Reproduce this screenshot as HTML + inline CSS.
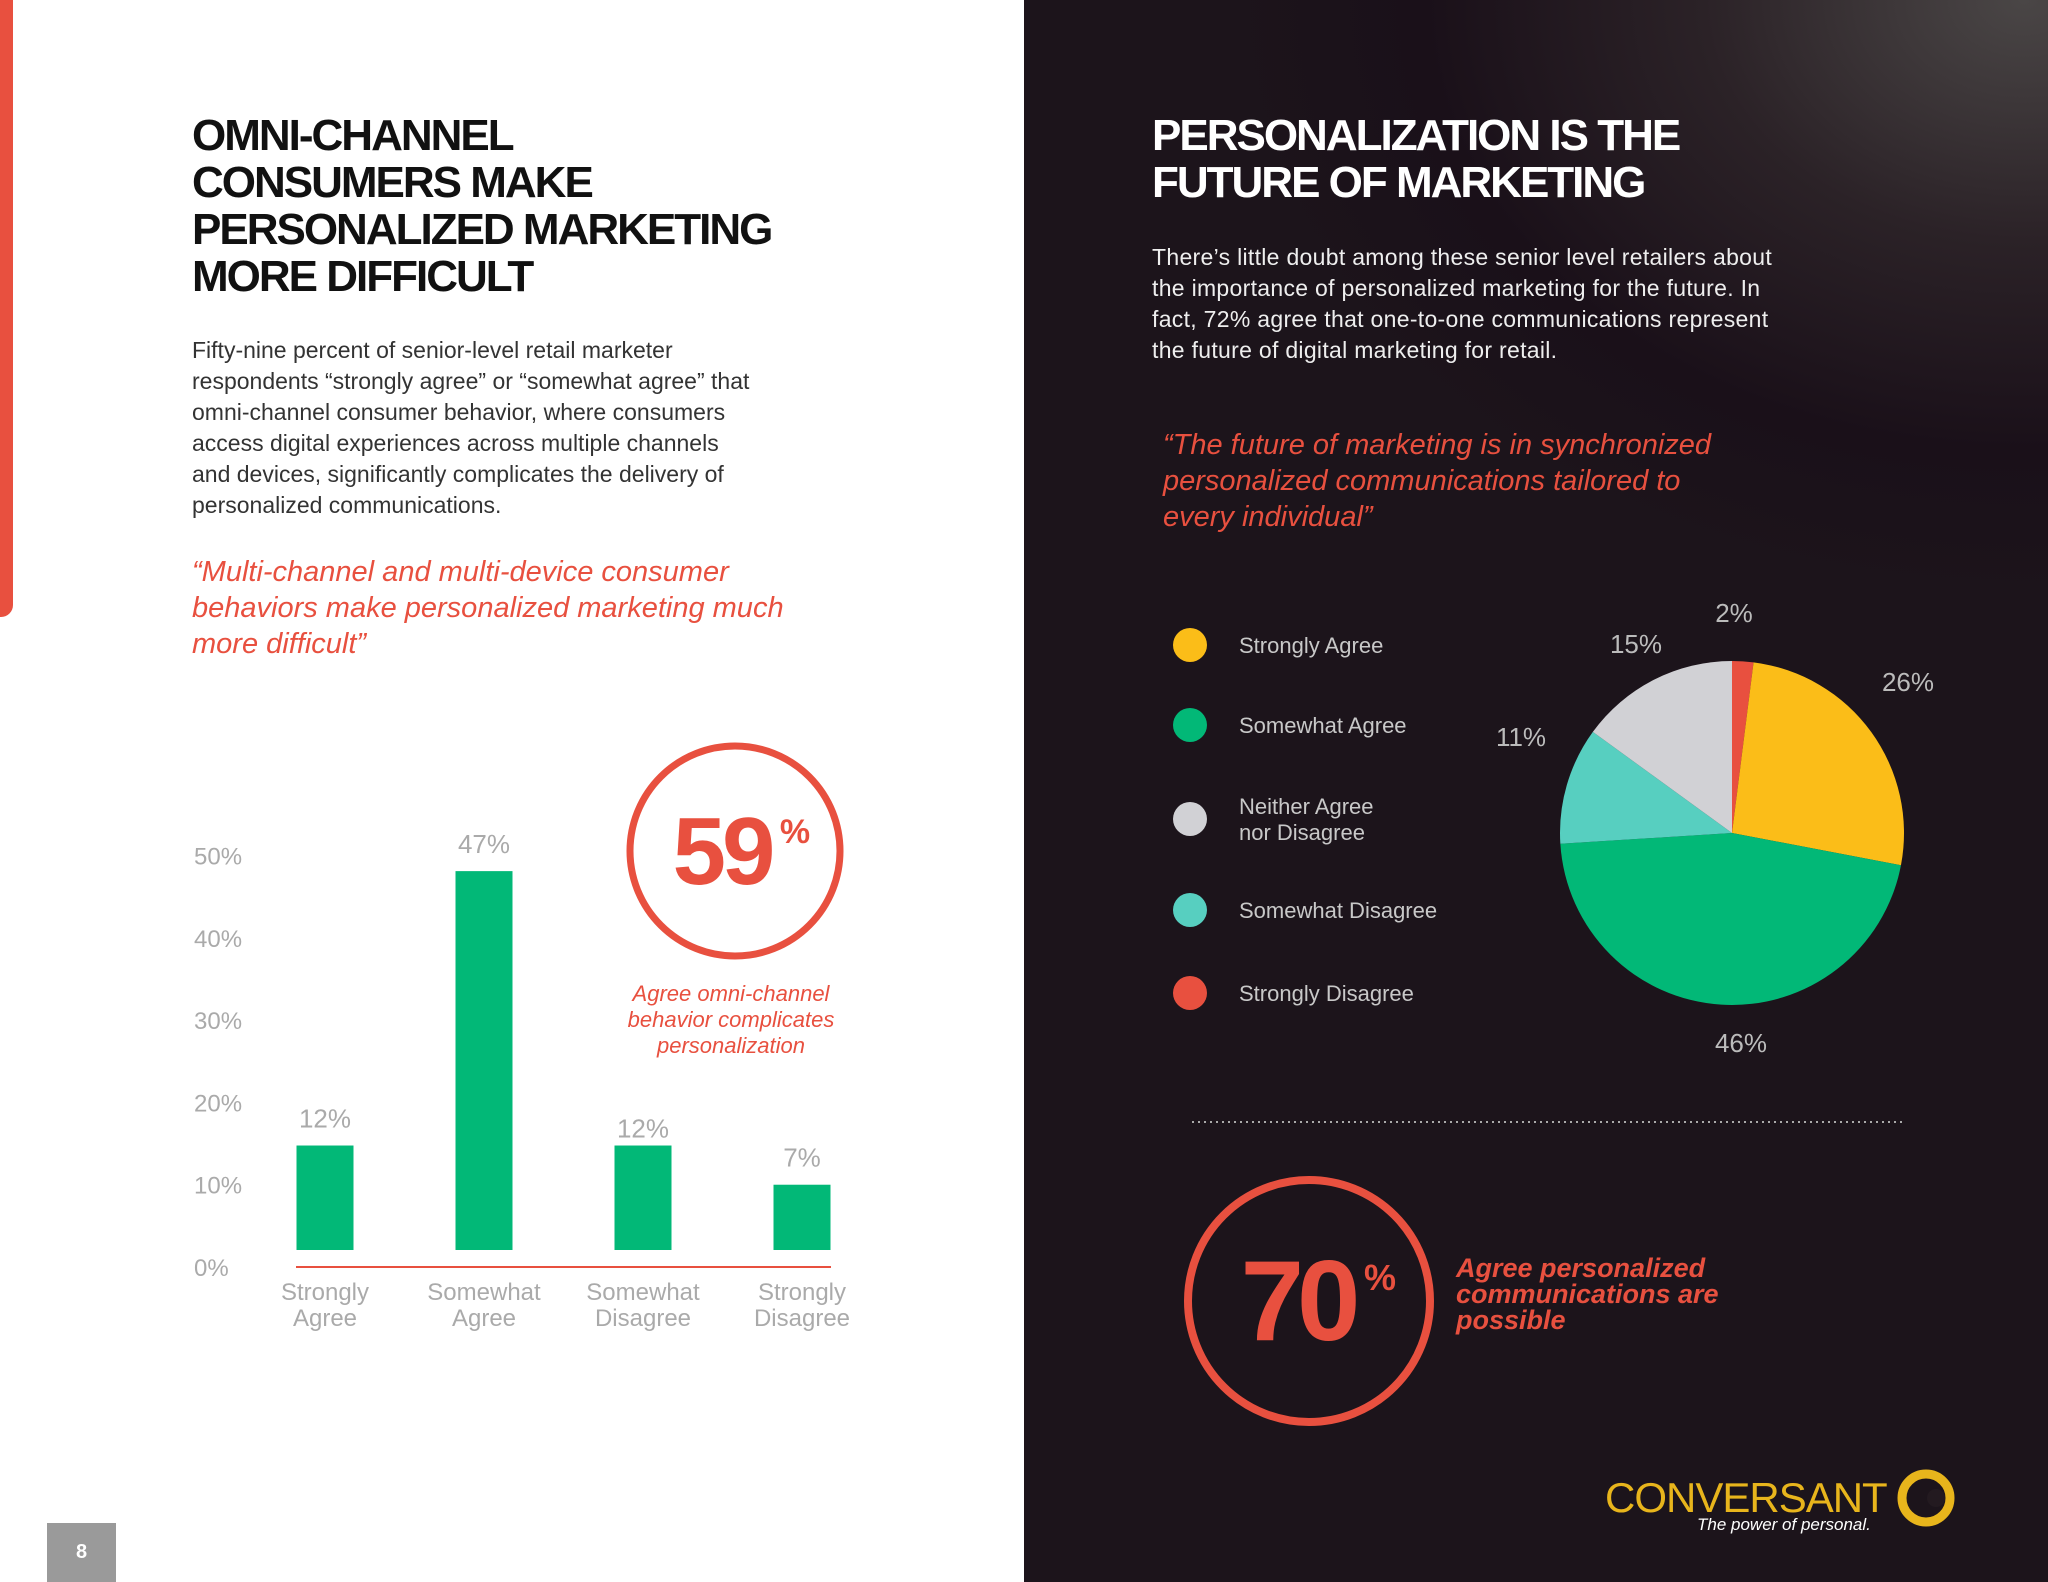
<!DOCTYPE html>
<html><head><meta charset="utf-8"><style>
html,body{margin:0;padding:0}
body{width:2048px;height:1582px;position:relative;overflow:hidden;font-family:"Liberation Sans",sans-serif;background:#fff}
.t{position:absolute;margin:0;white-space:nowrap}
#right{position:absolute;left:1024px;top:0;width:1024px;height:1582px;background:radial-gradient(ellipse 800px 600px at 1000px 0px,#4a4646 0%,#2b2227 40%,#1a1019 75%,#1c141b 100%)}
</style></head><body>
<div style="position:absolute;left:0;top:0;width:13px;height:617px;background:#e8503f;border-bottom-right-radius:12px"></div>
<div class="t" style="left:192px;top:112px;font-size:44px;font-weight:bold;line-height:47px;color:#111;letter-spacing:-2px">OMNI-CHANNEL<br>CONSUMERS MAKE<br>PERSONALIZED MARKETING<br>MORE DIFFICULT</div>
<div class="t" style="left:192px;top:335px;font-size:23px;line-height:31px;color:#333">Fifty-nine percent of senior-level retail marketer<br>respondents “strongly agree” or “somewhat agree” that<br>omni-channel consumer behavior, where consumers<br>access digital experiences across multiple channels<br>and devices, significantly complicates the delivery of<br>personalized communications.</div>
<div class="t" style="left:192px;top:554px;font-size:29px;line-height:36px;color:#e8503f;font-style:italic">“Multi-channel and multi-device consumer<br>behaviors make personalized marketing much<br>more difficult”</div>
<div style="position:absolute;left:47px;top:1523px;width:69px;height:59px;background:#9a9a9a;color:#fff;font-weight:bold;font-size:20px;text-align:center;line-height:59px">8</div>
<div id="right"></div>
<div class="t" style="left:1152px;top:112px;font-size:44px;font-weight:bold;line-height:47px;color:#fff;letter-spacing:-2px">PERSONALIZATION IS THE<br>FUTURE OF MARKETING</div>
<div class="t" style="left:1152px;top:242px;font-size:23px;line-height:31px;color:#eee;letter-spacing:0.3px">There’s little doubt among these senior level retailers about<br>the importance of personalized marketing for the future. In<br>fact, 72% agree that one-to-one communications represent<br>the future of digital marketing for retail.</div>
<div class="t" style="left:1163px;top:427px;font-size:29px;line-height:36px;color:#e8503f;font-style:italic">“The future of marketing is in synchronized<br>personalized communications tailored to<br>every individual”</div>
<svg id="svg" width="2048" height="1582" style="position:absolute;left:0;top:0" xmlns="http://www.w3.org/2000/svg" font-family="Liberation Sans, sans-serif"></svg>
<div class="t" style="left:1605px;top:1474px;font-size:42px;color:#e8b51c;letter-spacing:-1px">CONVERSANT</div>
<div class="t" style="left:1697px;top:1515px;font-size:17px;color:#fff;font-style:italic">The power of personal.</div>
<script>
const barCats=[["Strongly","Agree"],["Somewhat","Agree"],["Somewhat","Disagree"],["Strongly","Disagree"]];
const barVals=[12,47,12,7];
const barLabels=["12%","47%","12%","7%"];
const yTicks=[0,10,20,30,40,50];
const pieCats=["Strongly Agree","Somewhat Agree","Neither Agree|nor Disagree","Somewhat Disagree","Strongly Disagree"];
const pieVals=[26,46,15,11,2];
const pieLabels=["26%","46%","15%","11%","2%"];
const pieColors=["#fbbd18","#02b877","#d1d1d5","#57cfc0","#e8503f"];
const pieOrder=[4,0,1,3,2];

const NS="http://www.w3.org/2000/svg";
const svg=document.getElementById('svg');
function mk(tag,attrs,parent,text){const e=document.createElementNS(NS,tag);for(const k in attrs)e.setAttribute(k,attrs[k]);if(text!==undefined)e.textContent=text;(parent||svg).appendChild(e);return e;}
const barBase=1250, perPct=7.84, barOff=10.4;
const hBar=v=>barOff+v*perPct;
const yBar=v=>barBase-hBar(v);
const yTick=v=>1267-v*8.23;
const xBar=i=>325+i*159;
const g=mk('g',{});


yTicks.forEach(v=>{const t=mk('text',{x:194,y:yTick(v)+9,'font-size':24,fill:'#aaa'},g,v+'%');

});
const ax=mk('line',{x1:296,x2:831,y1:1267,y2:1267,stroke:'#e8503f','stroke-width':2},g);


barVals.forEach((v,i)=>{
 const r=mk('rect',{x:xBar(i)-28.5,y:yBar(v),width:57,height:hBar(v),fill:'#02b877'},g);
 
 
 const off=i==2?-17:-27;
 const l=mk('text',{x:xBar(i),y:yBar(v)+off+9,'font-size':26,fill:'#aaa','text-anchor':'middle'},g,barLabels[i]);
 
 
 barCats[i].forEach((s,j)=>{const c=mk('text',{x:xBar(i),y:1300+j*26,'font-size':24,fill:'#aaa','text-anchor':'middle'},g,s);
 
 });
});
const b=mk('g',{});


mk('circle',{cx:735,cy:851,r:105,fill:'none',stroke:'#e8503f','stroke-width':7},b);
mk('text',{x:722,y:884,'font-size':96,'font-weight':'bold',fill:'#e8503f','text-anchor':'middle','letter-spacing':-4},b,'59');
mk('text',{x:795,y:843,'font-size':34,'font-weight':'bold',fill:'#e8503f','text-anchor':'middle'},b,'%');
["Agree omni-channel","behavior complicates","personalization"].forEach((s,i)=>mk('text',{x:731,y:1001+i*26,'font-size':22,'font-style':'italic',fill:'#e8503f','text-anchor':'middle'},b,s));
pieCats.forEach((c,i)=>{
 const ys=[645,725,819,910,993];
 const lg=mk('g',{});
 
 
 mk('circle',{cx:1190,cy:ys[i],r:17,fill:pieColors[i]},lg);
 const parts=c.split('|');
 parts.forEach((p,j)=>mk('text',{x:1239,y:ys[i]+8+(parts.length>1?(j*26-13):0),'font-size':22,fill:'#c8c8c8'},lg,p));
});
const cx=1732,cy=833,R=172;
const tot=pieVals.reduce((a,b)=>a+b,0);
const lblPos={0:[1908,682],1:[1741,1043],2:[1636,644],3:[1521,737],4:[1734,613]};
let acc=0;
pieOrder.forEach(i=>{
 const a0=acc/tot*2*Math.PI; acc+=pieVals[i]; const a1=acc/tot*2*Math.PI;
 const p=(a)=>[cx+R*Math.sin(a),cy-R*Math.cos(a)];
 const [x0,y0]=p(a0),[x1,y1]=p(a1);
 const s=mk('path',{d:`M${cx},${cy}L${x0},${y0}A${R},${R} 0 ${a1-a0>Math.PI?1:0} 1 ${x1},${y1}Z`,fill:pieColors[i]});
 
 
 const t=mk('text',{x:lblPos[i][0],y:lblPos[i][1]+9,'font-size':26,fill:'#bbb','text-anchor':'middle'},svg,pieLabels[i]);
 
 
});
const dl=mk('line',{x1:1192,x2:1902,y1:1122,y2:1122,stroke:'#aaa','stroke-width':2,'stroke-dasharray':'2 4'});


const b7=mk('g',{});


mk('circle',{cx:1309,cy:1301,r:121,fill:'none',stroke:'#e8503f','stroke-width':8},b7);
mk('text',{x:1297,y:1340,'font-size':114,'font-weight':'bold',fill:'#e8503f','text-anchor':'middle','letter-spacing':-7},b7,'70');
mk('text',{x:1380,y:1290,'font-size':36,'font-weight':'bold',fill:'#e8503f','text-anchor':'middle'},b7,'%');
["Agree personalized","communications are","possible"].forEach((s,i)=>mk('text',{x:1456,y:1277+i*26,'font-size':27,'font-style':'italic','font-weight':'bold',fill:'#e8503f'},b7,s));
const lm=mk('g',{});


mk('circle',{cx:1926,cy:1498,r:24,fill:'none',stroke:'#e8b51c','stroke-width':9},lm);
mk('circle',{cx:1936,cy:1498,r:9,fill:'#231a20'},lm);
</script>
</body></html>
